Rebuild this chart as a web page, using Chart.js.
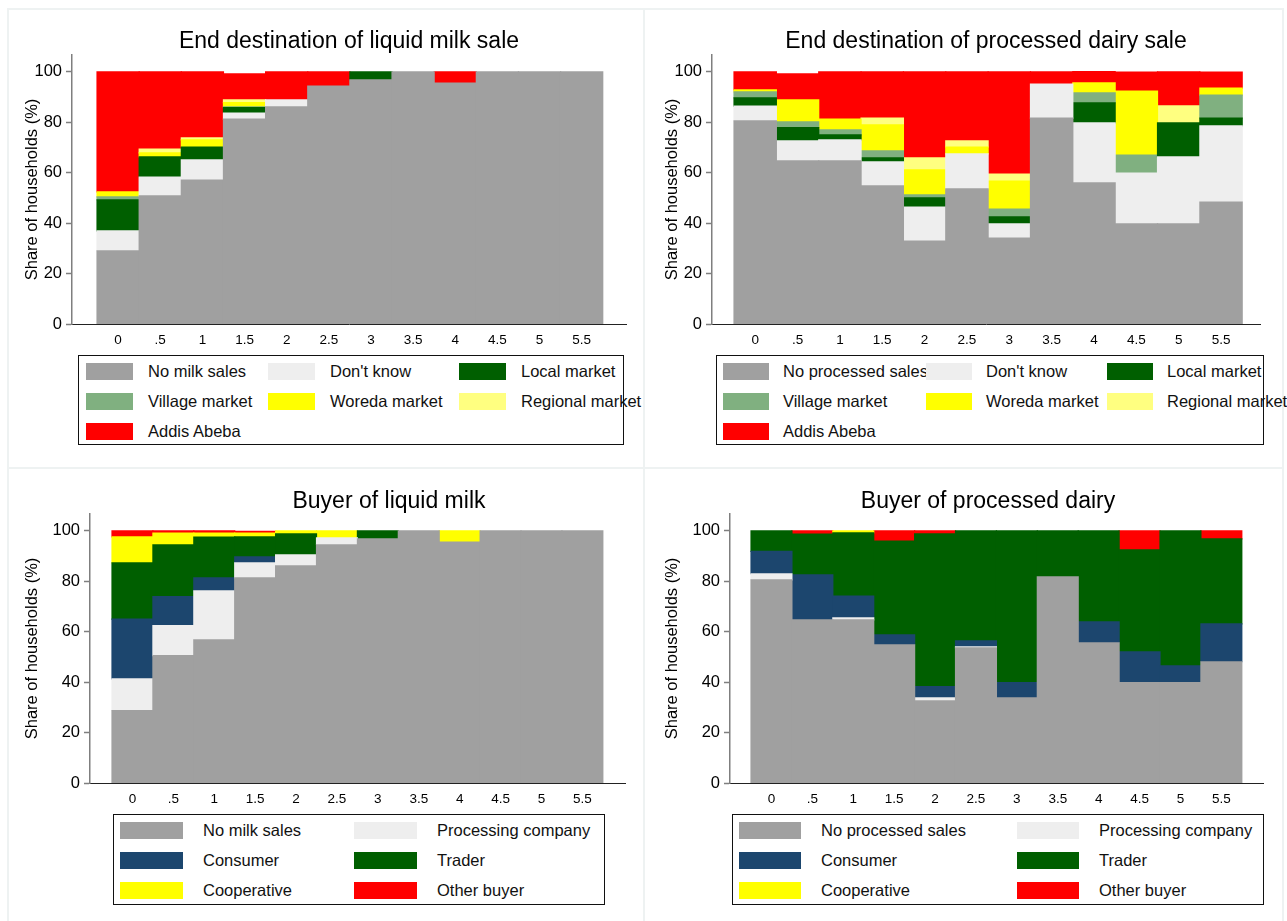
<!DOCTYPE html>
<html>
<head>
<meta charset="utf-8">
<script src="https://cdn.jsdelivr.net/npm/chart.js@4"></script>
<style>
  html, body { margin: 0; padding: 0; background: #fff; }
  #page { position: relative; width: 1287px; height: 921px; overflow: hidden; font-family: "Liberation Sans", Arial, sans-serif; color: #000; }
  .hline, .vline { position: absolute; background: #eef2f2; }
  canvas { position: absolute; }
  .title { position: absolute; font-size: 23px; white-space: nowrap; transform: translate(-50%, -50%); line-height: 1; }
  .legend { position: absolute; border: 1px solid #111; box-sizing: border-box; }
  .sw { position: absolute; height: 17px; }
  .lt { position: absolute; font-size: 16.5px; line-height: 20px; white-space: nowrap; color: #111; }
</style>
</head>
<body>
<div id="page">
  <div class="hline" style="left:8px;top:8px;width:1276px;height:2px"></div>
  <div class="hline" style="left:8px;top:467px;width:1276px;height:2px"></div>
  <div class="vline" style="left:7px;top:8px;width:2px;height:913px"></div>
  <div class="vline" style="left:643px;top:8px;width:2px;height:913px"></div>
  <div class="vline" style="left:1282px;top:8px;width:2px;height:913px"></div>

  <canvas id="c1" width="630" height="342" style="left:10px;top:10px"></canvas>
  <canvas id="c2" width="630" height="342" style="left:650px;top:10px"></canvas>
  <canvas id="c3" width="630" height="341" style="left:10px;top:470px"></canvas>
  <canvas id="c4" width="630" height="341" style="left:650px;top:470px"></canvas>

  <div class="title" style="left:349px;top:40px">End destination of liquid milk sale</div>
  <div class="title" style="left:986px;top:40px">End destination of processed dairy sale</div>
  <div class="title" style="left:389px;top:500px">Buyer of liquid milk</div>
  <div class="title" style="left:988px;top:500px">Buyer of processed dairy</div>
</div>
<script>
// ---------- data ----------
const xVals = [0, 0.5, 1, 1.5, 2, 2.5, 3, 3.5, 4, 4.5, 5, 5.5];
const xLabels = ["0", ".5", "1", "1.5", "2", "2.5", "3", "3.5", "4", "4.5", "5", "5.5"];
const yTicks = [0, 20, 40, 60, 80, 100];

// End destination of liquid milk sale
const destMilkLabels = ["No milk sales", "Don't know", "Local market", "Village market", "Woreda market", "Regional market", "Addis Abeba"];
const milkNoSales  = [29.0, 50.8, 57.1, 81.3, 86.1, 94.4, 96.8, 100, 95.6, 100, 100, 100];
const milkDontKnow = [7.9, 7.5, 8.0, 2.4, 2.8, 0, 0, 0, 0, 0, 0, 0];
const milkLocal    = [12.3, 8.0, 5.1, 2.1, 0, 0, 3.2, 0, 0, 0, 0, 0];
const milkVillage  = [1.2, 0, 0, 0.3, 0, 0, 0, 0, 0, 0, 0, 0];
const milkWoreda   = [2.0, 1.6, 2.8, 1.7, 0, 0, 0, 0, 0, 0, 0, 0];
const milkRegional = [0, 1.5, 0.8, 1.1, 0, 0, 0, 0, 0, 0, 0, 0];
const milkAddis    = [47.6, 30.6, 26.2, 10.3, 11.1, 5.6, 0, 0, 4.4, 0, 0, 0];

// End destination of processed dairy sale
const destProcLabels = ["No processed sales", "Don't know", "Local market", "Village market", "Woreda market", "Regional market", "Addis Abeba"];
const procNoSales  = [80.6, 64.7, 64.7, 54.8, 32.9, 53.6, 34.1, 81.7, 56.0, 39.7, 39.7, 48.4];
const procDontKnow = [5.8, 7.9, 8.3, 9.5, 13.5, 13.9, 5.6, 13.5, 23.8, 20.2, 26.6, 30.2];
const procLocal    = [3.3, 5.3, 2.0, 1.6, 3.6, 0, 2.8, 0, 7.9, 0, 13.5, 3.1];
const procVillage  = [2.4, 2.3, 2.0, 2.8, 1.2, 0, 3.1, 0, 4.0, 7.1, 0, 9.1];
const procWoreda   = [0.8, 8.7, 4.3, 10.3, 9.9, 2.7, 11.1, 0, 4.0, 25.4, 0, 2.8];
const procRegional = [0, 0, 0, 2.7, 4.8, 2.4, 2.8, 0, 0, 0, 6.7, 0];
const procAddis    = [7.1, 10.3, 18.7, 18.3, 34.1, 27.4, 40.5, 4.8, 4.4, 7.5, 13.5, 6.3];

// Buyer of liquid milk
const buyMilkLabels = ["No milk sales", "Processing company", "Consumer", "Trader", "Cooperative", "Other buyer"];
const bmNoSales    = [28.7, 50.5, 56.8, 81.4, 86.1, 94.5, 96.8, 100, 95.6, 100, 100, 100];
const bmProcessing = [12.6, 11.9, 19.4, 5.9, 4.4, 2.7, 0, 0, 0, 0, 0, 0];
const bmConsumer   = [23.7, 11.5, 5.2, 2.4, 0, 0, 0, 0, 0, 0, 0, 0];
const bmTrader     = [22.3, 20.6, 16.1, 7.9, 8.3, 0, 3.2, 0, 0, 0, 0, 0];
const bmCoop       = [10.3, 4.6, 1.6, 1.5, 1.2, 2.8, 0, 0, 4.4, 0, 0, 0];
const bmOther      = [2.4, 0.9, 0.9, 0.7, 0, 0, 0, 0, 0, 0, 0, 0];

// Buyer of processed dairy
const buyProcLabels = ["No processed sales", "Processing company", "Consumer", "Trader", "Cooperative", "Other buyer"];
const bpNoSales    = [80.6, 64.7, 64.7, 54.8, 32.6, 53.6, 33.8, 81.8, 55.6, 39.8, 39.8, 48.1];
const bpProcessing = [2.4, 0, 0.8, 0, 1.2, 0.4, 0, 0, 0, 0, 0, 0];
const bpConsumer   = [8.9, 17.9, 8.6, 4.0, 4.4, 2.4, 6.0, 0, 8.3, 12.2, 6.7, 15.0];
const bpTrader     = [8.1, 16.1, 25.1, 37.2, 60.6, 43.6, 60.2, 18.2, 36.1, 40.5, 53.5, 33.7];
const bpCoop       = [0, 0, 0.8, 0, 0, 0, 0, 0, 0, 0, 0, 0];
const bpOther      = [0, 1.3, 0, 4.0, 1.2, 0, 0, 0, 0, 7.5, 0, 3.2];

// ---------- colours ----------
const C_GREY = '#a0a0a0', C_LIGHT = '#eeeeee', C_DGREEN = '#005f00', C_VGREEN = '#80b080',
      C_YELLOW = '#ffff00', C_LYELLOW = '#ffff80', C_RED = '#ff0000', C_NAVY = '#1c466e';
const destColors = [C_GREY, C_LIGHT, C_DGREEN, C_VGREEN, C_YELLOW, C_LYELLOW, C_RED];
const buyColors = [C_GREY, C_LIGHT, C_NAVY, C_DGREEN, C_YELLOW, C_RED];

const FONT = '"Liberation Sans", Arial, sans-serif';

function makeChart(cfg) {
  const canvas = document.getElementById(cfg.id);
  const cw = canvas.width, ch = canvas.height;
  const yW = cfg.axisLeft - cfg.cl;
  const xH = (cfg.ct + ch) - cfg.axisBottom;
  const datasets = cfg.series.map((vals, i) => ({
    label: cfg.labels[i],
    data: vals.map((v, j) => ({ x: xVals[j], y: v === 0 ? null : v })),
    backgroundColor: cfg.colors[i],
    borderWidth: 0,
    inflateAmount: 0.6,
    barPercentage: 1.0,
    categoryPercentage: 1.0
  }));
  const chart = new Chart(canvas, {
    type: 'bar',
    data: { datasets },
    options: {
      responsive: false,
      animation: false,
      events: [],
      skipNull: true,
      layout: { padding: { left: 0, right: (cfg.cl + cw) - cfg.axisRight, top: cfg.axisTop - cfg.ct, bottom: 0 } },
      plugins: { legend: { display: false }, tooltip: { enabled: false }, title: { display: false } },
      scales: {
        x: {
          type: 'linear', stacked: true, offset: false,
          min: cfg.xMin, max: cfg.xMax, z: 1,
          afterBuildTicks: (s) => { s.ticks = xVals.map(v => ({ value: v })); },
          afterFit: (s) => { s.height = xH; },
          ticks: { autoSkip: false, maxRotation: 0, padding: 8, color: '#000',
                   font: { family: FONT, size: 13.5 },
                   callback: (v, i) => xLabels[i] },
          grid: { display: true, drawOnChartArea: false, drawTicks: false },
          border: { display: true, color: '#222', width: 1 }
        },
        y: {
          type: 'linear', stacked: true, min: 0, max: 106.7,
          afterBuildTicks: (s) => { s.ticks = yTicks.map(v => ({ value: v })); },
          afterFit: (s) => { s.width = yW; },
          ticks: { padding: 4, color: '#000', font: { family: FONT, size: 16.5 }, callback: (v) => String(v) },
          grid: { display: true, drawOnChartArea: false, drawTicks: true, tickLength: 6, tickColor: '#7f7f7f', tickWidth: 1.5 },
          border: { display: true, color: '#7f7f7f', width: 1.5 },
          title: { display: true, text: 'Share of households (%)', color: '#000',
                   font: { family: FONT, size: 16.5 }, padding: { top: 13, bottom: 0 } }
        }
      }
    }
  });
  // HTML legend built from the chart's datasets
  const lg = cfg.legend;
  const box = document.createElement('div');
  box.className = 'legend';
  Object.assign(box.style, { left: lg.x + 'px', top: lg.y + 'px', width: lg.w + 'px', height: lg.h + 'px' });
  chart.data.datasets.forEach((ds, i) => {
    const col = i % lg.cols, row = Math.floor(i / lg.cols);
    const sw = document.createElement('div');
    sw.className = 'sw';
    Object.assign(sw.style, { left: lg.colX[col] + 'px', top: (lg.rowY[row] - 8.5) + 'px', width: lg.swW + 'px', background: ds.backgroundColor });
    const t = document.createElement('div');
    t.className = 'lt';
    t.textContent = ds.label;
    Object.assign(t.style, { left: (lg.colX[col] + lg.textOff) + 'px', top: (lg.rowY[row] - 10) + 'px' });
    box.appendChild(sw);
    box.appendChild(t);
  });
  document.getElementById('page').appendChild(box);
  return chart;
}

makeChart({
  id: 'c1', cl: 10, ct: 10, axisLeft: 72, axisRight: 626, axisTop: 55, axisBottom: 324,
  xMin: -0.547, xMax: 6.026,
  labels: destMilkLabels, colors: destColors,
  series: [milkNoSales, milkDontKnow, milkLocal, milkVillage, milkWoreda, milkRegional, milkAddis],
  legend: { x: 78, y: 355, w: 546, h: 90, cols: 3, colX: [7, 189, 380], rowY: [15, 45, 75], swW: 47, textOff: 62 }
});
makeChart({
  id: 'c2', cl: 650, ct: 10, axisLeft: 712, axisRight: 1260, axisTop: 55, axisBottom: 324,
  xMin: -0.51, xMax: 5.96,
  labels: destProcLabels, colors: destColors,
  series: [procNoSales, procDontKnow, procLocal, procVillage, procWoreda, procRegional, procAddis],
  legend: { x: 716, y: 355, w: 548, h: 90, cols: 3, colX: [6, 209, 390], rowY: [15, 45, 75], swW: 46, textOff: 60 }
});
makeChart({
  id: 'c3', cl: 10, ct: 470, axisLeft: 90, axisRight: 625, axisTop: 514, axisBottom: 783,
  xMin: -0.519, xMax: 6.021,
  labels: buyMilkLabels, colors: buyColors,
  series: [bmNoSales, bmProcessing, bmConsumer, bmTrader, bmCoop, bmOther],
  legend: { x: 113, y: 814, w: 492, h: 91, cols: 2, colX: [6, 240], rowY: [15, 45, 75], swW: 63, textOff: 83 }
});
makeChart({
  id: 'c4', cl: 650, ct: 470, axisLeft: 730, axisRight: 1263, axisTop: 514, axisBottom: 783,
  xMin: -0.507, xMax: 6.009,
  labels: buyProcLabels, colors: buyColors,
  series: [bpNoSales, bpProcessing, bpConsumer, bpTrader, bpCoop, bpOther],
  legend: { x: 732, y: 814, w: 532, h: 91, cols: 2, colX: [6, 284], rowY: [15, 45, 75], swW: 62, textOff: 82 }
});
</script>
</body>
</html>
